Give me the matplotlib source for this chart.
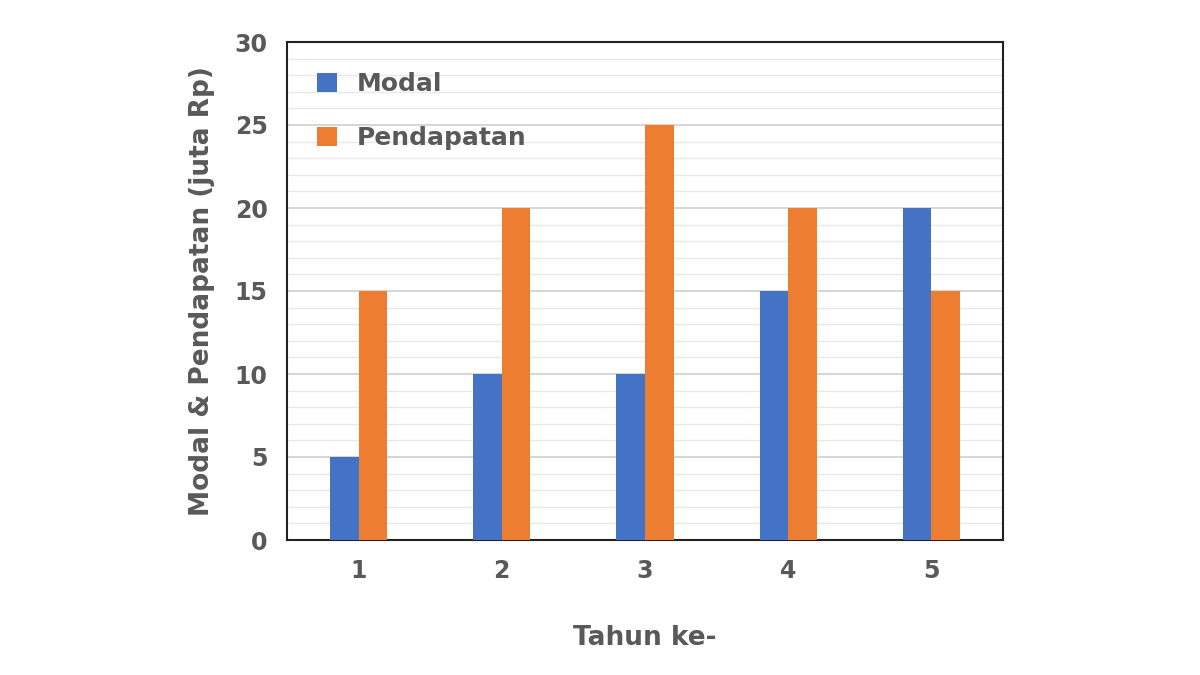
import numpy as np
import matplotlib.pyplot as plt

years = [1, 2, 3, 4, 5]
modal = [5, 10, 10, 15, 20]
pendapatan = [15, 20, 25, 20, 15]

fig = plt.figure(figsize=(12, 6.75), dpi=100)
ax = fig.add_axes([287/1200, 1-540/675, 716/1200, 498/675])

x = np.array(years)
w = 0.2
ax.bar(x - w/2, modal, w, color="#4472C4", label="Modal", zorder=3)
ax.bar(x + w/2, pendapatan, w, color="#ED7D31", label="Pendapatan", zorder=3)

ax.set_xlim(0.5, 5.5)
ax.set_ylim(0, 30)
ax.set_yticks(range(0, 31, 5))
ax.set_yticks(range(0, 31, 1), minor=True)
ax.set_xticks(years)
ax.grid(axis="y", which="major", color="#d0d0d0", lw=1.2, zorder=0)
ax.grid(axis="y", which="minor", color="#e8e8e8", lw=1, zorder=0)
ax.tick_params(which="both", length=0, labelsize=17, labelcolor="#595959", pad=14)
for lab in ax.get_xticklabels() + ax.get_yticklabels():
    lab.set_fontweight("bold")
for s in ax.spines.values():
    s.set_color("#222222")
    s.set_linewidth(1.5)

ax.set_xlabel("Tahun ke-", fontsize=19, fontweight="bold", color="#595959", labelpad=30)
ax.set_ylabel("Modal & Pendapatan (juta Rp)", fontsize=19, fontweight="bold", color="#595959", labelpad=14)

leg = ax.legend(loc="upper left", frameon=False, fontsize=18, handlelength=0.8,
                handleheight=0.8, labelspacing=1.2, borderaxespad=0.8)
for t in leg.get_texts():
    t.set_color("#595959")
    t.set_fontweight("bold")

fig.savefig("out.png")
